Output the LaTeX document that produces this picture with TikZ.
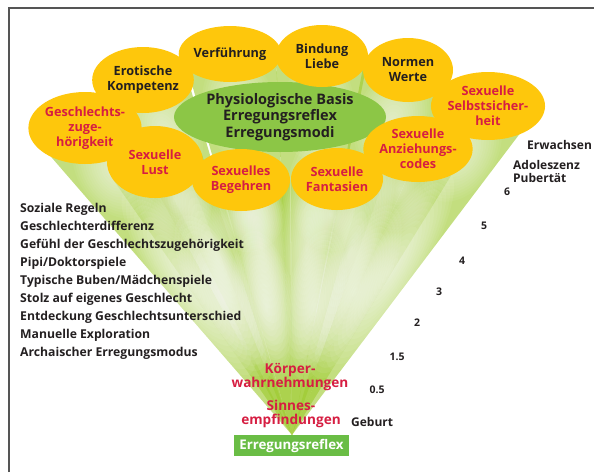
\documentclass[tikz,border=0pt]{standalone}
\usepackage{fontspec}
\setmainfont{Open Sans}
\usetikzlibrary{shapes.geometric}

\definecolor{petal}{RGB}{254,199,12}
\definecolor{inkred}{RGB}{214,30,66}
\definecolor{ink}{RGB}{35,31,32}
\definecolor{basegreen}{RGB}{140,198,70}
\definecolor{boxgreen}{RGB}{106,189,69}
\definecolor{fangreen}{RGB}{158,202,48}
\definecolor{framegray}{RGB}{85,85,85}

\tikzset{
  petalnode/.style={ellipse, fill=petal, inner sep=0pt, align=center,
    font=\bfseries\fontsize{12.7}{15}\selectfont},
  redtxt/.style={text=inkred},
  blktxt/.style={text=ink},
  listtxt/.style={anchor=base west, text=ink, inner sep=0pt,
    font=\bfseries\fontsize{12.2}{14}\selectfont},
  agetxt/.style={anchor=base west, text=ink, inner sep=0pt,
    font=\bfseries\fontsize{12}{14}\selectfont},
  numtxt/.style={text=ink, inner sep=0pt, font=\bfseries\fontsize{10.5}{12}\selectfont},
  sensetxt/.style={text=inkred, align=center, inner sep=0pt,
    font=\bfseries\fontsize{13.6}{14.7}\selectfont},
  beam/.style={fill=fangreen, fill opacity=0.62},
}

% tangent points t1, t2 of the ellipse (#1,#2) radii #3,#4 seen from the apex
\newcommand\beamtangents[4]{%
  \pgfmathsetmacro\bpx{(292-#1)/#3}%
  \pgfmathsetmacro\bpy{(435-#2)/#4}%
  \pgfmathsetmacro\bphi{atan2(\bpy,\bpx)}%
  \pgfmathsetmacro\bdel{acos(1/veclen(\bpx,\bpy))}%
  \coordinate (t1) at ({#1+#3*cos(\bphi+\bdel)},{#2+#4*sin(\bphi+\bdel)});
  \coordinate (t2) at ({#1+#3*cos(\bphi-\bdel)},{#2+#4*sin(\bphi-\bdel)});
}

% soft white glow: centre at fraction #5 of the beam, radii #6 (along) and #7 (across), strength #8
\newcommand\beamglow[8]{%
  \pgfmathsetmacro\gang{atan2(435-#2,#1-292)}%
  \pgfmathsetmacro\glen{veclen(#1-292,#2-435)}%
  \pgfmathsetmacro\gx{292+#5*(#1-292)}%
  \pgfmathsetmacro\gy{435+#5*(#2-435)}%
  \begin{scope}
    \clip (apex) -- (t1) -- (#1,#2) -- (t2) -- cycle;
    \begin{scope}[shift={(\gx,\gy)}, rotate=\gang]
      \foreach \k in {1,...,16}
        \fill[white, opacity=#8] (0,0) ellipse ({#6*\glen*\k/16} and {#7*\k/16});
    \end{scope}
  \end{scope}
}

\begin{document}
\begin{tikzpicture}[x=1pt,y=-1pt]
\useasboundingbox (0,0) rectangle (594,472);
\coordinate (apex) at (292,435);

% frame
\draw[framegray, line width=1.3pt] (9,472) -- (9,8) -- (594,8);

% light beams from the apex to every petal
\foreach \cx/\cy/\ra/\rb in {85/128/50/36, 143/80/44/33, 230/54/46/28,
    322/56/46/31, 408/70/45/32, 488/106/46/34, 418/149/45/33,
    337/179/46/31, 241/180/49/31, 155/162/48/36} {
  \beamtangents{\cx}{\cy}{\ra}{\rb}
  \fill[beam] (apex) -- (t1) -- (\cx,\cy) -- (t2) -- cycle;
}

% glows inside the beams: a broad one half way up, a faint one near the petals
\foreach \cx/\cy/\ra/\rb in {85/128/50/36, 143/80/44/33, 230/54/46/28,
    322/56/46/31, 408/70/45/32, 488/106/46/34, 418/149/45/33,
    337/179/46/31, 241/180/49/31, 155/162/48/36} {
  \beamtangents{\cx}{\cy}{\ra}{\rb}
  \beamglow{\cx}{\cy}{\ra}{\rb}{0.5}{0.3}{30}{0.065}
  \beamglow{\cx}{\cy}{\ra}{\rb}{0.86}{0.14}{36}{0.05}
}

% central ellipse
\node[ellipse, fill=basegreen, minimum width=212pt, minimum height=70pt,
  inner sep=0pt, align=center, text=ink,
  font=\bfseries\fontsize{14.5}{16.5}\selectfont] (basis) at (280,117)
  {Physiologische Basis\\Erregungsreflex\\Erregungsmodi};

% petals
\node[petalnode, blktxt, minimum width=88pt, minimum height=66pt] (erotik) at (143,80) {Erotische\\Kompetenz};
\node[petalnode, blktxt, minimum width=92pt, minimum height=56pt] (verf) at (230,54) {Verführung};
\node[petalnode, blktxt, minimum width=92pt, minimum height=62pt] (bindung) at (322,56) {Bindung\\Liebe};
\node[petalnode, blktxt, minimum width=90pt, minimum height=64pt] (normen) at (408,70) {Normen\\Werte};
\node[petalnode, redtxt, minimum width=100pt, minimum height=72pt] (zugeh) at (85,128) {Geschlechts-\\zuge-\\hörigkeit};
\node[petalnode, redtxt, minimum width=96pt, minimum height=72pt] (lust) at (155,162) {Sexuelle\\Lust};
\node[petalnode, redtxt, minimum width=98pt, minimum height=62pt] (begehren) at (241,180) {Sexuelles\\Begehren};
\node[petalnode, redtxt, minimum width=92pt, minimum height=62pt] (fantasien) at (337,179) {Sexuelle\\Fantasien};
\node[petalnode, redtxt, minimum width=92pt, minimum height=68pt] (selbst) at (488,106) {Sexuelle\\Selbstsicher-\\heit};
\node[petalnode, redtxt, minimum width=90pt, minimum height=66pt] (codes) at (418,149) {Sexuelle\\Anziehungs-\\codes};

% development list
\node[listtxt] (l1) at (20,212.0) {Soziale Regeln};
\node[listtxt] (l2) at (20,230.1) {Geschlechterdifferenz};
\node[listtxt] (l3) at (20,248.2) {Gefühl der Geschlechtszugehörigkeit};
\node[listtxt] (l4) at (20,266.3) {Pipi/Doktorspiele};
\node[listtxt] (l5) at (20,284.4) {Typische Buben/Mädchenspiele};
\node[listtxt] (l6) at (20,302.5) {Stolz auf eigenes Geschlecht};
\node[listtxt] (l7) at (20,320.6) {Entdeckung Geschlechtsunterschied};
\node[listtxt] (l8) at (20,338.7) {Manuelle Exploration};
\node[listtxt] (l9) at (20,356.8) {Archaischer Erregungsmodus};

% age scale
\node[agetxt] (erw) at (527,149) {Erwachsen};
\node[agetxt] (adol) at (513,169) {Adoleszenz};
\node[agetxt] (pub) at (513,182) {Pubertät};
\node[numtxt] (a6) at (507,192) {6};
\node[numtxt] (a5) at (484,226) {5};
\node[numtxt] (a4) at (462,261) {4};
\node[numtxt] (a3) at (439,292) {3};
\node[numtxt] (a2) at (417,323) {2};
\node[numtxt] (a15) at (397,357) {1.5};
\node[numtxt] (a05) at (377,390) {0.5};
\node[agetxt] (geburt) at (351,426) {Geburt};

% senses near the apex
\node[sensetxt] (koerper) at (290,377) {Körper-\\wahrnehmungen};
\node[sensetxt] (sinne) at (291,414) {Sinnes-\\empfindungen};

% base box
\node[fill=boxgreen, minimum width=115pt, minimum height=21pt, inner sep=0pt,
  text=white, font=\bfseries\fontsize{13.3}{15}\selectfont] (reflex) at (291.5,445.5) {Erregungsreflex};
\end{tikzpicture}
\end{document}
